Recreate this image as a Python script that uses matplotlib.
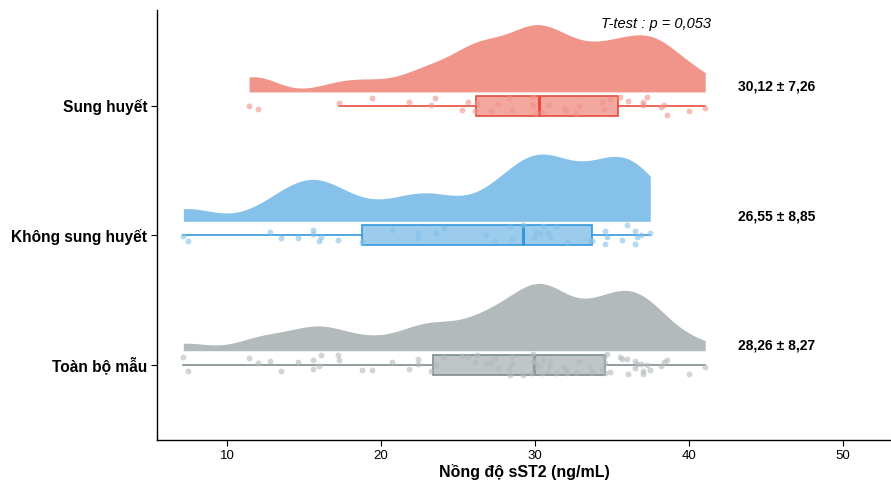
import numpy as np
import matplotlib
matplotlib.use("Agg")
import matplotlib.pyplot as plt

plt.rcParams['font.family'] = ['Liberation Sans', 'DejaVu Sans']

# ---- data ----
group_labels = ["Toàn bộ mẫu", "Không sung huyết", "Sung huyết"]

sung = [11.43, 11.99, 17.29, 19.40, 21.84, 23.25, 23.49, 25.26, 25.65, 26.12,
        26.20, 27.12, 27.60, 28.31, 28.49, 29.79, 29.85, 29.85, 30.05, 30.44,
        30.93, 31.84, 32.01, 32.62, 32.84, 34.31, 34.50, 34.87, 35.52, 36.04,
        37.01, 37.01, 37.25, 38.20, 38.38, 38.57, 40.00, 41.04]

khong = [7.16, 7.45, 12.77, 13.49, 14.59, 15.56, 15.56, 16.08, 15.95, 17.19,
         18.77, 20.73, 22.38, 22.42, 23.53, 24.11, 26.80, 27.42, 28.36, 28.51,
         29.24, 30.05, 29.95, 30.31, 30.52, 30.82, 30.95, 31.32, 32.08, 33.55,
         33.68, 34.55, 34.69, 34.53, 35.63, 35.99, 36.45, 36.60, 36.49, 36.90,
         37.47]

toan = sung + khong

mean_sd_text = ["28,26 ± 8,27", "26,55 ± 8,85", "30,12 ± 7,26"]
ttest_text = "T-test : p = 0,053"

# vertical jitter of the dots (pixels; + = down)
jit_sung = [0.3, 3.3, -2.7, -7.7, -3.4, -0.4, -7.7, 4, -4, 5, -2.4, 5.3, -1.7, -8, 4.6,
            -1.7, -9, 0.6, 7, 6, -0.4, 2.6, 4.6, 7, 0, -3.4, 3.3, -6.4, -9, -4.7,
            -4, -0.7, -9, 1.3, -1, 9.3, 5, 2]
jit_khong = [0.7, 5.7, -3, 2.7, 3.3, -5.3, -1, 2.3, 5.7, 5.3, 6.7, -5.3, -2.3, 2.7, -1.7,
             -7.3, 0.3, 6.3, -8.3, 4, -10.3, -3.3, 2, -1.7, -9.3, -2, 2, -7.7, 7, 5,
             5.7, -4, 2.3, 9.3, 4.7, -9.7, -4, 2.3, 9.3, 0, -2.3]
jit_toan = [-6.7, -1.3, -4.7, 5.7, 4.3, 6.7, 0.7, -9, -7.7, -2.7, -10, -2, 3.3, 4, -7.3,
            8.3, -10.7, -2.3, -2, 8.3, 1.7, 2.7, 5.7, 7, -3.3, 4, -7.3, 7.7, -7.3, 9.3,
            6.7, 9, 0, 1.7, -3, -4.7, 9, 2.7,
            -7.3, 6.7, -3.7, 6.7, -2.7, -4.7, 4, -10, 1.7, -10, 5, -2.3, -6, -0.7, 0,
            -7.7, -1, -7, 10, -1, 10, 3, -5, 1, -5, 6, -4, 8.3, 8.3, 2.7, 7.7, 8.3,
            -10.7, -2, -5.7, -6, -3.3, -1, 3, -0.7, 5]

datasets = [toan, khong, sung]
jitters = [jit_toan, jit_khong, jit_sung]

# ---- styles ----
fill_cols = ["#B2BABB", "#85C1E9", "#F1948A"]
edge_cols = ["#7F8C8D", "#3498DB", "#E74C3C"]
PX = 129.4  # pixels per category unit (for jitter conversion)


def kde(vals, adjust=0.5, n_grid=512):
    v = np.asarray(vals, dtype=float)
    n = len(v)
    sd = v.std(ddof=1)
    q75, q25 = np.percentile(v, [75, 25])
    bw = 0.9 * min(sd, (q75 - q25) / 1.34) * n ** -0.2 * adjust
    grid = np.linspace(v.min(), v.max(), n_grid)
    d = np.exp(-0.5 * ((grid[:, None] - v[None, :]) / bw) ** 2).sum(1) / (n * bw * np.sqrt(2 * np.pi))
    return grid, d


fig = plt.figure(figsize=(8.91, 4.8), dpi=100)
ax = fig.add_axes([157 / 891, 40 / 480, (891 - 157) / 891, 430 / 480])

positions = [1, 2, 3]
base_off = 0.107
vmax_h = 0.52

for pos, vals, jit, fc, ec in zip(positions, datasets, jitters, fill_cols, edge_cols):
    g, d = kde(vals)
    h = d / d.max() * vmax_h
    ax.fill_between(g, pos + base_off, pos + base_off + h, color=fc, lw=0, zorder=1)

    bp = ax.boxplot([vals], positions=[pos], orientation='horizontal', widths=0.154,
                    patch_artist=True, showfliers=False, showcaps=False,
                    manage_ticks=False, zorder=2)
    for b in bp['boxes']:
        b.set_facecolor(matplotlib.colors.to_rgba(fc, 0.82))
        b.set_edgecolor(ec)
        b.set_linewidth(1.2)
    for w in bp['whiskers']:
        w.set_color(ec)
        w.set_linewidth(1.2)
    for m in bp['medians']:
        m.set_color(ec)
        m.set_linewidth(2.2)

    yj = pos - np.asarray(jit) / PX
    ax.scatter(vals, yj, s=18, color=fc, alpha=0.6, linewidths=0, zorder=3)

for pos, txt in zip(positions, mean_sd_text):
    ax.text(45.65, pos + 0.145, txt, ha='center', va='center', fontsize=10,
            fontweight='bold', color='black')

ax.text(41.4, 3.635, ttest_text, ha='right', va='center', fontsize=10.5,
        style='italic', color='black')

ax.set_xlim(5.45, 53.1)
ax.set_ylim(0.417, 3.74)
ax.set_xticks([10, 20, 30, 40, 50])
ax.set_xticklabels(["10", "20", "30", "40", "50"])
ax.set_yticks(positions)
ax.set_yticklabels(group_labels, fontsize=11.2, fontweight='bold')
ax.tick_params(axis='x', labelsize=9.5, length=4, width=0.8, colors='black', pad=3)
ax.tick_params(axis='y', length=4, width=0.8, colors='black', pad=3)
for s in ['top', 'right']:
    ax.spines[s].set_visible(False)
for s in ['left', 'bottom']:
    ax.spines[s].set_linewidth(1.0)
    ax.spines[s].set_color('black')
ax.set_xlabel("Nồng độ sST2 (ng/mL)", fontsize=11.5, fontweight='bold', labelpad=2)

fig.savefig("out.png", dpi=100)
